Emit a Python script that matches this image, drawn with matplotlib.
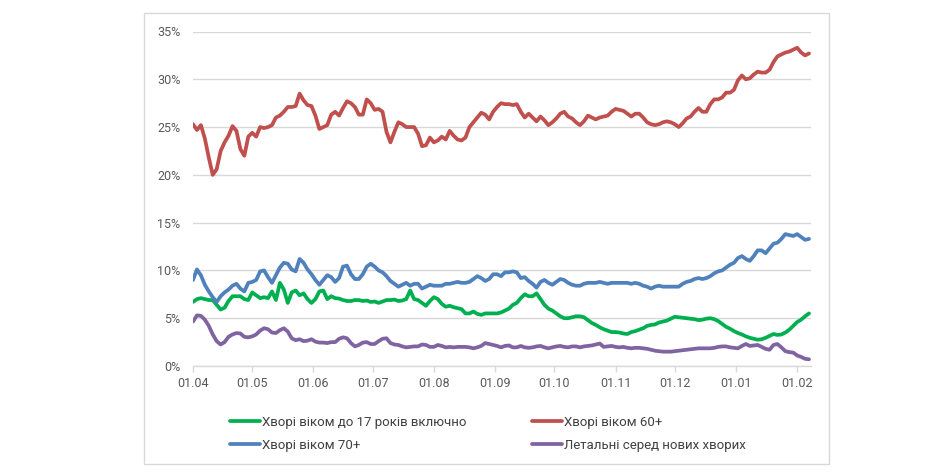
import numpy as np
import pandas as pd
import matplotlib
matplotlib.use('Agg')
import matplotlib.pyplot as plt
import matplotlib.dates as mdates
from matplotlib.patches import Rectangle
from matplotlib.ticker import FuncFormatter

plt.rcParams['font.family'] = ['Roboto', 'DejaVu Sans']

# ---- data (every 2nd day from 01.04.2020) ----
dates = pd.date_range('2020-04-01', periods=157, freq='2D')

age_0_17 = [
    6.7, 7.0, 7.1, 7.0, 6.9, 6.9, 6.4, 5.9, 6.1, 6.8,
    7.3, 7.3, 7.3, 7.0, 6.9, 7.7, 7.4, 7.1, 7.2, 7.1,
    7.8, 6.9, 8.7, 8.0, 6.6, 7.7, 7.9, 7.4, 7.6, 7.0,
    6.6, 7.0, 7.8, 7.9, 7.0, 7.3, 7.1, 7.05, 6.9, 6.8,
    6.8, 6.9, 6.9, 6.8, 6.85, 6.7, 6.75, 6.6, 6.75, 6.9,
    6.9, 6.95, 6.8, 6.85, 7.0, 7.9, 7.0, 6.9, 6.6, 6.3,
    6.8, 7.2, 7.0, 6.5, 6.2, 6.3, 6.15, 6.05, 5.95, 5.5,
    5.5, 5.7, 5.45, 5.35, 5.5, 5.5, 5.5, 5.5, 5.6, 5.8,
    6.0, 6.4, 6.6, 7.1, 7.5, 7.3, 7.3, 7.6, 7.0, 6.4,
    6.0, 5.8, 5.5, 5.2, 5.0, 5.0, 5.1, 5.2, 5.2, 5.1,
    4.8, 4.5, 4.3, 4.05, 3.85, 3.7, 3.55, 3.55, 3.5, 3.4,
    3.35, 3.55, 3.65, 3.8, 3.95, 4.2, 4.3, 4.35, 4.55, 4.65,
    4.75, 4.95, 5.15, 5.1, 5.05, 5.0, 4.95, 4.9, 4.8, 4.85,
    4.95, 5.0, 4.9, 4.7, 4.4, 4.1, 3.9, 3.65, 3.45, 3.3,
    3.1, 2.95, 2.85, 2.75, 2.8, 2.95, 3.15, 3.35, 3.25, 3.3,
    3.5, 3.8, 4.2, 4.6, 4.85, 5.2, 5.5,
]

age_60 = [
    25.3, 24.7, 25.2, 23.8, 21.8, 20.0, 20.6, 22.5, 23.4, 24.1,
    25.1, 24.6, 22.7, 22.0, 24.0, 24.4, 24.0, 25.0, 24.9, 25.0,
    25.2, 26.0, 26.2, 26.6, 27.1, 27.1, 27.2, 28.5, 27.8, 27.3,
    27.2, 26.2, 24.8, 25.0, 25.2, 26.3, 26.6, 26.2, 27.0, 27.7,
    27.5, 27.1, 26.3, 26.3, 27.9, 27.5, 26.8, 26.9, 26.6, 24.5,
    23.4, 24.5, 25.5, 25.3, 25.0, 25.0, 25.0, 24.3, 23.0, 23.1,
    23.9, 23.4, 23.6, 24.0, 23.7, 24.6, 24.1, 23.7, 23.6, 23.9,
    25.0, 25.5, 26.0, 26.5, 26.3, 25.8, 26.6, 27.1, 27.5, 27.4,
    27.4, 27.3, 27.4, 26.6, 26.0, 26.4, 26.0, 25.6, 26.1, 25.7,
    25.2, 25.5, 25.9, 26.4, 26.6, 26.1, 25.9, 25.5, 25.2, 25.6,
    26.2, 26.0, 25.8, 26.0, 26.1, 26.2, 26.6, 26.9, 26.8, 26.7,
    26.4, 26.1, 26.4, 26.4, 26.0, 25.5, 25.3, 25.2, 25.3, 25.5,
    25.6, 25.5, 25.3, 25.0, 25.4, 25.9, 26.1, 26.6, 27.0, 26.6,
    26.6, 27.4, 27.9, 27.9, 28.1, 28.6, 28.6, 28.9, 29.9, 30.4,
    30.0, 30.1, 30.5, 30.8, 30.7, 30.7, 31.0, 31.8, 32.4, 32.6,
    32.8, 32.9, 33.1, 33.3, 32.8, 32.5, 32.7,
]

age_70 = [
    9.0, 10.1, 9.5, 8.5, 7.8, 7.2, 6.7, 7.3, 7.7, 8.0,
    8.4, 8.6, 8.1, 7.8, 8.7, 8.8, 9.0, 9.9, 10.0, 9.3,
    8.7, 9.5, 10.3, 10.8, 10.7, 10.1, 9.9, 11.2, 10.8, 10.1,
    9.6, 9.0, 8.5, 9.0, 9.5, 9.3, 8.8, 9.2, 10.4, 10.5,
    9.6, 9.1, 9.1, 9.6, 10.4, 10.7, 10.4, 10.0, 9.8, 9.4,
    8.9, 8.6, 8.3, 8.5, 8.7, 8.4, 8.6, 8.6, 8.1, 8.3,
    8.5, 8.4, 8.4, 8.4, 8.6, 8.6, 8.7, 8.8, 8.7, 8.7,
    8.8, 9.1, 9.4, 9.2, 8.9, 9.1, 9.6, 9.6, 9.4, 9.8,
    9.8, 9.9, 9.8, 9.2, 9.3, 8.9, 8.6, 8.2, 8.8, 9.0,
    8.7, 8.5, 8.8, 9.1, 9.0, 8.7, 8.5, 8.4, 8.4, 8.6,
    8.7, 8.7, 8.7, 8.8, 8.7, 8.6, 8.7, 8.7, 8.7, 8.7,
    8.7, 8.6, 8.7, 8.6, 8.4, 8.3, 8.1, 8.3, 8.4, 8.3,
    8.3, 8.3, 8.3, 8.3, 8.6, 8.8, 8.9, 9.1, 9.2, 9.1,
    9.2, 9.4, 9.7, 9.9, 10.0, 10.3, 10.6, 10.8, 11.3, 11.5,
    11.2, 11.0, 11.5, 12.1, 12.1, 11.8, 12.3, 12.8, 12.9, 13.3,
    13.8, 13.7, 13.6, 13.8, 13.5, 13.2, 13.3,
]

lethal = [
    4.65, 5.3, 5.25, 4.85, 4.2, 3.3, 2.6, 2.25, 2.5, 3.05,
    3.3, 3.45, 3.4, 3.05, 3.0, 3.1, 3.3, 3.7, 3.95, 3.85,
    3.5, 3.45, 3.75, 3.95, 3.6, 2.9, 2.7, 2.8, 2.6, 2.65,
    2.8, 2.55, 2.45, 2.45, 2.4, 2.5, 2.5, 2.85, 3.0, 2.9,
    2.4, 2.05, 2.2, 2.45, 2.5, 2.3, 2.3, 2.6, 2.85, 2.9,
    2.4, 2.25, 2.2, 2.05, 1.95, 2.0, 2.05, 2.05, 2.25, 2.2,
    2.0, 2.0, 2.2, 2.1, 1.95, 2.0, 1.95, 2.0, 2.0, 2.0,
    1.95, 1.85, 1.95, 2.1, 2.4, 2.3, 2.2, 2.1, 1.95, 2.1,
    2.15, 1.95, 1.95, 2.1, 1.95, 1.9, 1.95, 2.05, 2.1, 1.95,
    1.85, 1.95, 2.05, 2.1, 2.0, 1.95, 2.05, 2.05, 1.95, 2.05,
    2.1, 2.15, 2.25, 2.35, 2.0, 2.05, 2.1, 2.0, 1.95, 2.0,
    1.9, 1.85, 1.9, 1.9, 1.85, 1.8, 1.7, 1.6, 1.55, 1.5,
    1.5, 1.5, 1.55, 1.6, 1.65, 1.7, 1.75, 1.8, 1.85, 1.85,
    1.85, 1.85, 1.9, 2.0, 2.05, 2.05, 1.95, 1.9, 1.85, 2.1,
    2.3, 2.1, 2.15, 2.2, 2.0, 1.8, 1.7, 2.2, 2.3, 1.95,
    1.55, 1.45, 1.4, 1.1, 0.95, 0.75, 0.7,
]

labels = ['Хворі віком до 17 років включно', 'Хворі віком 60+',
          'Хворі віком 70+', 'Летальні серед нових хворих']
colors = ['#00b050', '#c0504d', '#4f81bd', '#8064a2']
month_ticks = pd.date_range('2020-04-01', '2021-02-01', freq='MS')
y_ticks = [0, 5, 10, 15, 20, 25, 30, 35]

# ---- figure ----
W, H = 935, 474
fig = plt.figure(figsize=(W / 100, H / 100), dpi=100)
fig.patches.append(Rectangle((144 / W, 1 - 464 / H), (829 - 144) / W, (464 - 13) / H,
                             transform=fig.transFigure, fill=False,
                             edgecolor='#d9d9d9', lw=1))

ax = fig.add_axes([193 / W, 1 - 366 / H, (811 - 193) / W, (366 - 31.5) / H])

series = [age_0_17, age_60, age_70, lethal]
lines = []
for vals, lab, col in zip(series, labels, colors):
    ln, = ax.plot(dates, vals, color=col, lw=2.7, label=lab,
                  solid_joinstyle='round', solid_capstyle='round')
    lines.append(ln)

ax.set_xlim(pd.Timestamp('2020-04-01'), pd.Timestamp('2020-04-01') + pd.Timedelta(days=313))
ax.set_ylim(0, 35)
ax.set_yticks(y_ticks)
ax.yaxis.set_major_formatter(FuncFormatter(lambda v, p: f'{int(v)}%'))
ax.set_xticks(month_ticks)
ax.xaxis.set_major_formatter(mdates.DateFormatter('%d.%m'))

ax.grid(axis='y', color='#d9d9d9', lw=1)
ax.set_axisbelow(True)
for s in ['top', 'right', 'left']:
    ax.spines[s].set_visible(False)
ax.spines['bottom'].set_color('#d9d9d9')
ax.spines['bottom'].set_linewidth(1)
ax.tick_params(axis='y', length=0, pad=9, labelsize=9, labelcolor='#595959')
ax.tick_params(axis='x', length=4, width=1, color='#d9d9d9', pad=4,
               labelsize=9, labelcolor='#595959')

order = [0, 2, 1, 3]
leg = fig.legend([lines[i] for i in order], [labels[i] for i in order],
                 ncol=2, loc='upper left', bbox_to_anchor=(230 / W, 1 - 416 / H),
                 frameon=False, fontsize=9.5, handlelength=2.3, handletextpad=0.1,
                 columnspacing=5.0, labelspacing=0.75, borderaxespad=0, borderpad=0,
                 labelcolor='#404040')

fig.savefig('out.png', dpi=100)
